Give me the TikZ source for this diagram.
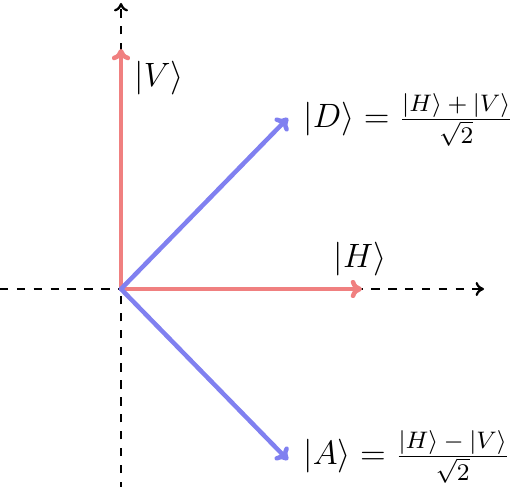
\RequirePackage{fix-cm}
\documentclass[tikz,border=0pt]{standalone}
\usetikzlibrary{arrows.meta}
\definecolor{vred}{RGB}{240,128,128}
\definecolor{vblue}{RGB}{128,128,240}
\newcommand{\fracpart}[1]{\hbox{\fontsize{8.5}{10}\selectfont$#1$}}
\newcommand{\kfrac}[2]{\frac{\fracpart{#1}}{\fracpart{#2}}}
\begin{document}
\begin{tikzpicture}[x=0.0125cm,y=-0.0125cm,
  axis/.style={dashed,thick,-{To[length=3pt,width=5pt]}},
  vecr/.style={vred,line width=1.6pt,line cap=round,-{To[round,length=4pt,width=6.5pt]}},
  vecb/.style={vblue,line width=1.6pt,line cap=round,-{To[round,length=4pt,width=6.5pt]}},
  lab/.style={font=\large,inner sep=0pt}]
\useasboundingbox (0,0) rectangle (510,487);
\coordinate (O) at (121,289);
\coordinate (xl) at (0,289);
\coordinate (xr) at (484,289);
\coordinate (yb) at (121,490);
\coordinate (yt) at (121,3);
\coordinate (H) at (362,289);
\coordinate (V) at (121,49);
\coordinate (D) at (288,118);
\coordinate (A) at (288,460);
\draw[axis] (xl) -- (xr);
\draw[axis] (yb) -- (yt);
\draw[vecr] (O) -- (H);
\draw[vecr] (O) -- (V);
\draw[vecb] (O) -- (D);
\draw[vecb] (O) -- (A);
\node[lab,anchor=base west] (lV) at (134,87) {$|V\rangle$};
\node[lab,anchor=base] (lH) at (360,268) {$|H\rangle$};
\node[lab,anchor=base west] (lD) at (303,128) {$|D\rangle=\kfrac{|H\rangle\mskip4mu{+}\mskip4mu|V\rangle}{\sqrt{2}}$};
\node[lab,anchor=base west] (lA) at (303,465) {$|A\rangle=\kfrac{|H\rangle\mskip4mu{-}\mskip4mu|V\rangle}{\sqrt{2}}$};
\end{tikzpicture}
\end{document}
